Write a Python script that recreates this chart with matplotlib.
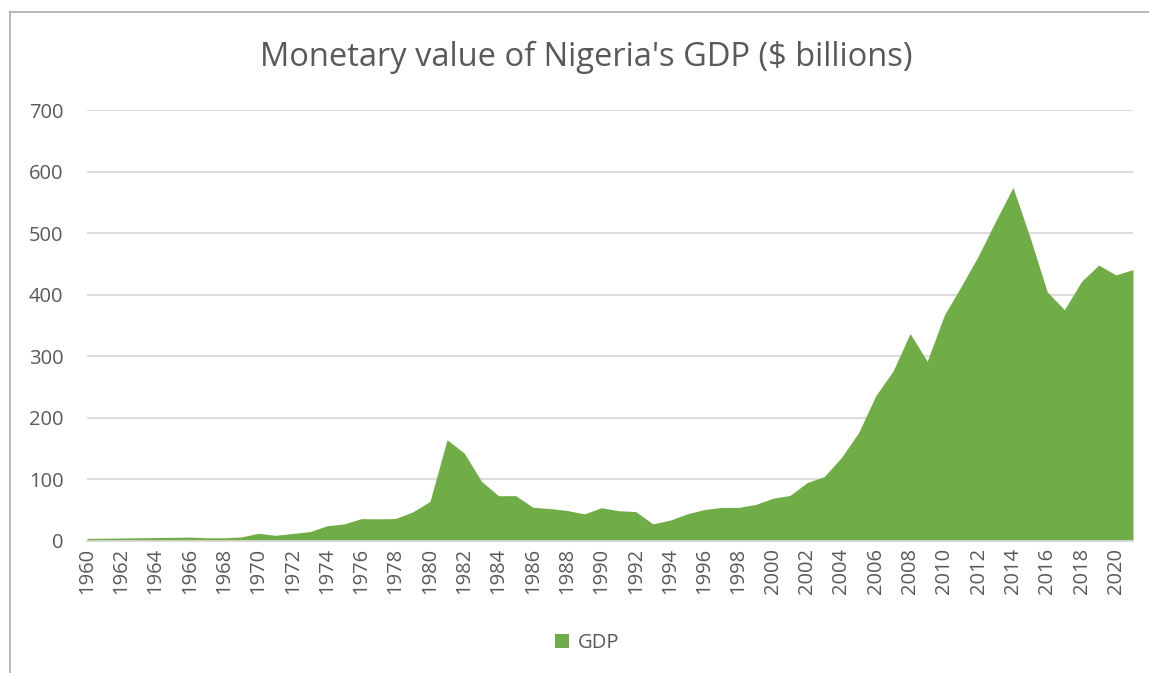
import matplotlib
matplotlib.use("Agg")
import matplotlib.pyplot as plt
from matplotlib.lines import Line2D

# Nigeria GDP, current US$ billions
years = list(range(1960, 2022))
gdp = [4.2, 4.5, 4.9, 5.2, 5.6, 5.9, 6.4, 5.2, 5.2, 6.6,
       12.5, 9.2, 12.3, 15.2, 24.8, 27.8, 36.3, 36.0, 36.5, 47.3,
       64.2, 164.5, 142.8, 97.1, 73.5, 73.7, 54.8, 52.7, 49.6, 44.0,
       54.0, 49.1, 47.8, 27.8, 33.8, 44.1, 51.1, 54.5, 54.6, 59.4,
       69.4, 74.0, 95.0, 104.7, 135.8, 176.1, 236.1, 275.6, 337.0, 291.9,
       367.0, 414.5, 464.0, 520.1, 574.2, 493.0, 404.6, 375.7, 421.7, 448.1,
       432.2, 440.8]
yticks = [0, 100, 200, 300, 400, 500, 600, 700]
xticks = list(range(1960, 2021, 2))

green = "#70AD47"
text_col = "#595959"
grid_col = "#D9D9D9"

plt.rcParams["font.family"] = ["Open Sans", "DejaVu Sans"]

fig = plt.figure(figsize=(11.49, 6.73), dpi=100)
ax = fig.add_axes([87 / 1149, 1 - 541 / 673, 1046 / 1149, 431 / 673])

ax.fill_between(years, gdp, 0, color=green, linewidth=0, label="GDP")

ax.set_xlim(1960, 2021)
ax.set_ylim(0, 700)
ax.set_yticks(yticks)
ax.set_xticks(xticks)
ax.set_xticklabels([str(x) for x in xticks], rotation=90)
ax.yaxis.grid(True, color=grid_col, linewidth=1.3)
ax.set_axisbelow(True)
for side in ["top", "right", "left"]:
    ax.spines[side].set_visible(False)
ax.spines["bottom"].set_color(grid_col)
ax.spines["bottom"].set_linewidth(1.3)
ax.tick_params(axis="both", length=0, labelsize=14.5, labelcolor=text_col)
ax.tick_params(axis="y", pad=17)
ax.tick_params(axis="x", pad=5)

fig.text(586 / 1149, 1 - 57 / 673, "Monetary value of Nigeria's GDP ($ billions)",
         ha="center", va="center", fontsize=23.5, color=text_col)

fig.legend(loc="center", bbox_to_anchor=(587 / 1149, 1 - 643 / 673),
           frameon=False, fontsize=14.5, labelcolor=text_col,
           handlelength=0.7, handleheight=0.7, handletextpad=0.4)

# chart frame (top and left edges visible in the source)
fig.add_artist(Line2D([10 / 1149, 1], [1 - 12 / 673] * 2, color="#ABABAB", linewidth=1.2))
fig.add_artist(Line2D([10 / 1149] * 2, [0, 1 - 12 / 673], color="#ABABAB", linewidth=1.2))

fig.savefig("out.png", dpi=100)
